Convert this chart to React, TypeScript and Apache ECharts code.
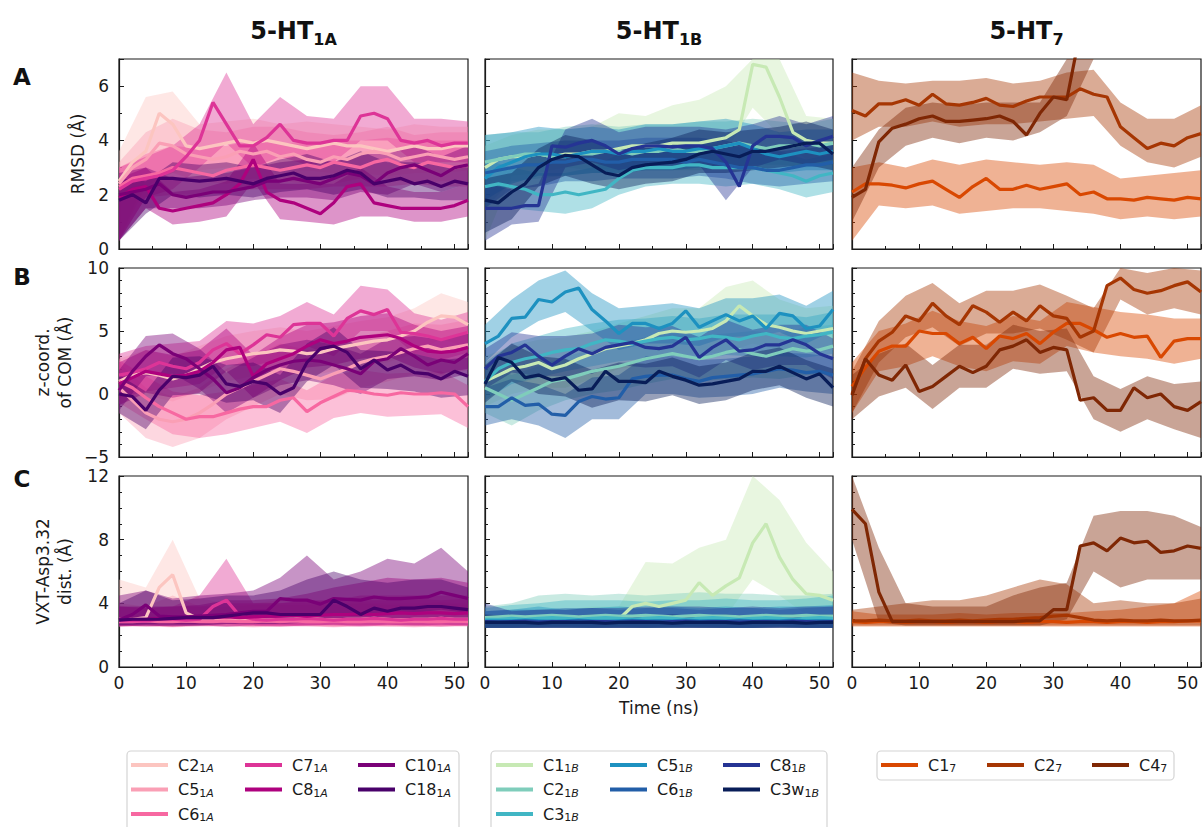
import React, { useEffect, useRef } from 'react';
import * as echarts from 'echarts';

const FONT = "'DejaVu Sans', sans-serif";
const INK = '#1a1a1a';

// time grids (ns)
const T = [0, 2, 4, 6, 8, 10, 12, 14, 16, 18, 20, 22, 24, 26, 28, 30, 32, 34, 36, 38, 40, 42, 44, 46, 48, 50, 52];
const TB = [0, 4, 8, 12, 16, 20, 24, 28, 32, 36, 40, 44, 48, 52];

const COLORS: Record<string, string> = {
  C2_1A: '#fcc5c0', C5_1A: '#fa9fb5', C6_1A: '#f768a1', C7_1A: '#dd3497', C8_1A: '#ae017e', C10_1A: '#7a0177', C18_1A: '#49006a',
  C1_1B: '#c7e9b4', C2_1B: '#7fcdbb', C3_1B: '#41b6c4', C5_1B: '#1d91c0', C6_1B: '#225ea8', C8_1B: '#253494', C3w_1B: '#081d58',
  C1_7: '#d94801', C2_7: '#a63603', C4_7: '#7f2704',
};

// ---------- A: RMSD (Å) ----------
const rmsd1A_C2 = [2.5, 3.2, 3.6, 5.0, 4.6, 3.8, 3.7, 3.8, 3.9, 4.0, 3.9, 4.0, 3.9, 3.8, 3.7, 3.8, 3.9, 3.8, 3.8, 3.7, 3.6, 3.7, 3.8, 3.7, 3.7, 3.8, 3.8];
const rmsd1A_C2_lo = [0.3, 2.6, 2.8, 2.9, 3.0, 3.0, 2.9, 2.9, 2.8, 2.8, 2.7, 2.8, 2.8, 2.9];
const rmsd1A_C2_hi = [3.6, 5.6, 5.8, 4.6, 4.7, 4.8, 4.6, 4.7, 4.6, 4.5, 4.4, 4.6, 4.5, 4.5];
const rmsd1A_C5 = [2.4, 3.0, 3.3, 3.9, 3.8, 3.5, 3.4, 3.3, 3.4, 3.6, 3.5, 3.6, 3.4, 3.5, 3.3, 3.2, 3.4, 3.3, 3.5, 3.6, 3.5, 3.3, 3.4, 3.5, 3.4, 3.3, 3.4];
const rmsd1A_C5_lo = [0.3, 2.3, 2.8, 2.5, 2.4, 2.6, 2.5, 2.4, 2.4, 2.6, 2.6, 2.4, 2.5, 2.5];
const rmsd1A_C5_hi = [3.2, 4.3, 4.8, 4.4, 4.3, 4.5, 4.5, 4.3, 4.2, 4.3, 4.5, 4.2, 4.3, 4.3];
const rmsd1A_C6 = [2.3, 2.6, 2.7, 2.8, 3.0, 2.9, 2.8, 2.7, 2.9, 3.0, 3.1, 3.0, 2.9, 3.0, 3.1, 3.0, 3.2, 3.1, 3.0, 3.2, 3.3, 3.1, 3.0, 3.2, 3.1, 3.0, 3.1];
const rmsd1A_C6_lo = [0.3, 1.9, 2.0, 2.0, 2.1, 2.2, 2.2, 2.2, 2.3, 2.3, 2.3, 2.4, 2.3, 2.3];
const rmsd1A_C6_hi = [3.0, 3.5, 3.8, 3.7, 3.8, 4.0, 3.9, 3.9, 4.0, 4.0, 4.1, 4.0, 4.0, 4.0];
const rmsd1A_C7 = [2.2, 2.5, 2.6, 2.7, 2.9, 3.4, 4.0, 5.4, 4.6, 3.8, 3.8, 4.1, 4.6, 4.0, 3.9, 3.9, 4.0, 4.0, 4.9, 5.0, 4.8, 4.0, 3.9, 4.0, 3.8, 3.9, 3.9];
const rmsd1A_C7_lo = [0.3, 1.9, 2.2, 3.0, 3.9, 3.0, 3.4, 3.1, 3.2, 4.0, 4.0, 3.2, 3.2, 3.2];
const rmsd1A_C7_hi = [3.0, 3.4, 3.8, 4.6, 6.5, 4.6, 5.6, 4.9, 4.8, 6.0, 6.0, 4.8, 4.8, 4.7];
const rmsd1A_C8 = [1.9, 2.2, 2.3, 1.5, 1.4, 1.5, 1.6, 1.7, 2.0, 2.4, 3.3, 2.1, 1.8, 1.7, 1.5, 1.3, 1.7, 2.3, 2.4, 1.7, 1.6, 1.5, 1.5, 1.5, 1.5, 1.6, 1.8];
const rmsd1A_C8_lo = [0.3, 1.5, 0.9, 1.0, 1.2, 2.5, 1.1, 1.0, 0.9, 1.2, 1.2, 1.0, 1.0, 1.2];
const rmsd1A_C8_hi = [2.6, 3.0, 2.1, 2.2, 2.5, 3.9, 2.4, 2.4, 2.4, 3.0, 2.3, 2.1, 2.1, 2.4];
const rmsd1A_C10 = [2.0, 2.1, 2.2, 2.4, 2.0, 1.9, 2.0, 2.1, 2.1, 2.2, 2.3, 2.5, 2.5, 2.6, 2.5, 2.4, 2.6, 2.8, 2.7, 2.4, 2.8, 3.0, 3.1, 2.9, 2.7, 3.0, 3.1];
const rmsd1A_C10_lo = [0.3, 1.5, 1.5, 1.5, 1.6, 1.8, 1.9, 1.9, 1.8, 2.1, 2.0, 2.4, 2.1, 2.4];
const rmsd1A_C10_hi = [2.8, 3.0, 2.6, 2.7, 2.8, 3.0, 3.2, 3.3, 3.2, 3.5, 3.5, 3.8, 3.4, 3.8];
const rmsd1A_C18 = [1.8, 2.0, 1.7, 2.6, 2.6, 2.55, 2.5, 2.55, 2.6, 2.5, 2.4, 2.6, 2.7, 2.8, 2.6, 2.6, 2.7, 2.9, 2.8, 2.4, 2.5, 2.6, 2.4, 2.5, 2.3, 2.5, 2.4];
const rmsd1A_C18_lo = [0.3, 1.3, 2.0, 1.9, 2.0, 1.9, 2.1, 2.2, 2.0, 2.2, 1.9, 1.9, 1.8, 1.8];
const rmsd1A_C18_hi = [2.6, 2.5, 3.2, 3.1, 3.2, 3.0, 3.3, 3.5, 3.2, 3.6, 3.2, 3.2, 3.1, 3.0];

const rmsd1B_C1 = [3.0, 3.3, 3.4, 3.4, 3.5, 3.4, 3.5, 3.5, 3.6, 3.6, 3.7, 3.8, 3.8, 3.8, 3.9, 3.9, 3.9, 4.0, 4.1, 4.4, 6.8, 6.7, 5.6, 4.3, 4.0, 3.9, 3.9];
const rmsd1B_C1_lo = [0.3, 2.7, 2.8, 3.0, 2.9, 3.0, 3.1, 3.2, 3.3, 3.6, 5.2, 4.2, 3.3, 3.2];
const rmsd1B_C1_hi = [3.8, 4.2, 4.4, 4.4, 4.5, 5.0, 4.9, 5.3, 5.5, 6.0, 7.0, 7.0, 4.9, 4.8];
const rmsd1B_C2 = [3.2, 3.3, 3.4, 3.5, 3.5, 3.4, 3.4, 3.5, 3.5, 3.6, 3.6, 3.5, 3.6, 3.6, 3.7, 3.6, 3.6, 3.7, 3.8, 3.9, 3.8, 3.7, 3.8, 3.8, 3.9, 3.8, 3.9];
const rmsd1B_C2_lo = [1.5, 2.5, 2.6, 2.7, 2.8, 2.8, 2.9, 2.9, 2.9, 3.0, 3.1, 3.1, 3.0, 3.1];
const rmsd1B_C2_hi = [4.2, 4.3, 4.3, 4.5, 4.6, 4.5, 4.6, 4.6, 4.7, 4.7, 4.8, 4.7, 4.6, 4.8];
const rmsd1B_C3 = [2.3, 2.4, 2.3, 2.2, 2.0, 2.0, 2.1, 2.0, 2.1, 2.2, 2.6, 2.9, 3.0, 3.0, 3.0, 3.1, 3.1, 3.0, 3.0, 3.0, 3.0, 2.9, 2.8, 2.7, 2.5, 2.7, 2.8];
const rmsd1B_C3_lo = [1.5, 1.5, 1.4, 1.3, 1.5, 2.0, 2.3, 2.4, 2.4, 2.3, 2.4, 2.2, 1.9, 2.1];
const rmsd1B_C3_hi = [3.3, 3.0, 2.8, 2.8, 3.0, 3.5, 3.7, 3.8, 3.8, 3.8, 3.7, 3.6, 3.3, 3.5];
const rmsd1B_C5 = [2.6, 3.0, 3.2, 3.4, 3.5, 3.5, 3.4, 3.5, 3.6, 3.6, 3.5, 3.6, 3.6, 3.7, 3.6, 3.6, 3.7, 3.7, 3.8, 3.9, 3.7, 3.5, 3.4, 3.5, 3.6, 3.5, 3.6];
const rmsd1B_C5_lo = [1.8, 2.4, 2.7, 2.7, 2.8, 2.8, 2.9, 2.9, 3.0, 3.1, 3.0, 2.8, 2.9, 2.9];
const rmsd1B_C5_hi = [4.2, 4.3, 4.5, 4.4, 4.5, 4.4, 4.6, 4.6, 4.7, 4.8, 4.6, 4.3, 4.4, 4.4];
const rmsd1B_C6 = [2.8, 2.9, 3.0, 3.1, 3.1, 3.2, 3.2, 3.3, 3.3, 3.2, 3.2, 3.3, 3.3, 3.3, 3.3, 3.2, 3.3, 3.2, 3.1, 3.0, 3.0, 2.9, 2.9, 3.0, 3.1, 3.1, 3.2];
const rmsd1B_C6_lo = [1.5, 2.2, 2.3, 2.5, 2.5, 2.6, 2.6, 2.6, 2.7, 2.6, 2.4, 2.3, 2.4, 2.5];
const rmsd1B_C6_hi = [3.6, 3.8, 3.9, 4.0, 4.0, 4.0, 4.1, 4.1, 4.1, 4.0, 3.7, 3.6, 3.7, 3.8];
const rmsd1B_C8 = [1.5, 1.5, 1.5, 1.6, 1.6, 3.8, 3.75, 3.9, 4.0, 3.8, 3.5, 3.7, 3.8, 3.8, 3.75, 3.8, 3.8, 3.7, 3.2, 2.3, 3.8, 4.15, 4.15, 4.1, 3.8, 4.0, 4.15];
const rmsd1B_C8_lo = [0.3, 0.9, 1.0, 3.0, 3.2, 2.9, 3.1, 3.1, 3.1, 1.8, 3.0, 3.3, 3.1, 3.3];
const rmsd1B_C8_hi = [2.4, 2.2, 2.4, 4.4, 4.8, 4.3, 4.5, 4.5, 4.5, 4.4, 4.6, 4.9, 4.6, 4.9];
const rmsd1B_C3w = [1.8, 1.7, 2.1, 2.4, 3.0, 3.3, 3.45, 3.4, 3.1, 2.8, 2.7, 3.0, 3.1, 3.15, 3.2, 3.3, 3.5, 3.6, 3.5, 3.4, 3.6, 3.6, 3.7, 3.8, 3.9, 3.9, 3.5];
const rmsd1B_C3w_lo = [0.6, 1.1, 2.3, 2.7, 2.4, 2.2, 2.4, 2.5, 2.8, 2.8, 2.9, 3.0, 3.1, 2.9];
const rmsd1B_C3w_hi = [2.6, 2.8, 3.7, 4.2, 4.0, 3.6, 3.9, 4.1, 4.4, 4.3, 4.4, 4.5, 4.7, 4.4];

const rmsd7_C1 = [2.1, 2.4, 2.4, 2.35, 2.25, 2.4, 2.5, 2.2, 1.9, 2.3, 2.6, 2.2, 2.2, 2.35, 2.2, 2.3, 2.4, 2.0, 2.1, 1.85, 1.85, 1.8, 1.9, 1.85, 1.8, 1.9, 1.85];
const rmsd7_C1_lo = [0.3, 1.6, 1.5, 1.6, 1.3, 1.4, 1.5, 1.5, 1.4, 1.3, 1.1, 1.2, 1.1, 1.2];
const rmsd7_C1_hi = [3.0, 3.2, 3.0, 3.3, 3.1, 3.3, 3.2, 3.1, 3.2, 3.1, 2.6, 2.7, 2.8, 2.9];
const rmsd7_C2 = [5.1, 4.9, 5.35, 5.35, 5.5, 5.3, 5.7, 5.35, 5.3, 5.4, 5.55, 5.3, 5.25, 5.45, 5.6, 5.6, 5.6, 5.9, 5.7, 5.6, 4.5, 4.1, 3.7, 3.9, 3.8, 4.1, 4.25];
const rmsd7_C2_lo = [4.0, 4.5, 4.5, 4.7, 4.5, 4.6, 4.6, 4.7, 4.8, 4.9, 3.8, 3.2, 3.0, 3.4];
const rmsd7_C2_hi = [6.5, 6.2, 6.1, 6.2, 6.2, 6.3, 6.1, 6.2, 6.5, 6.6, 5.4, 4.8, 4.8, 5.3];
const rmsd7_C4 = [1.9, 2.2, 3.95, 4.45, 4.6, 4.8, 4.9, 4.7, 4.7, 4.75, 4.8, 4.9, 4.7, 4.2, 5.0, 5.6, 5.5, 8, 8, 8, 8, 8, 8, 8, 8, 8, 8];
const rmsd7_C4_lo = [1.0, 3.0, 3.8, 4.1, 3.9, 4.1, 4.0, 4.3, 4.9, 8, 8, 8, 8, 8];
const rmsd7_C4_hi = [3.0, 4.4, 5.2, 5.4, 5.3, 5.4, 5.4, 5.4, 7.0, 8, 8, 8, 8, 8];

// ---------- B: z-coord. of COM (Å) ----------
const zcom1A_C2 = [1.0, 1.5, 1.7, 1.5, 1.2, 1.5, 2.0, 2.5, 2.8, 3.0, 3.2, 3.3, 3.5, 3.4, 3.2, 3.3, 3.6, 3.8, 4.0, 4.2, 4.3, 4.6, 5.0, 5.7, 6.2, 6.1, 5.5];
const zcom1A_C2_lo = [-0.8, -0.1, -0.6, 0.2, 1.0, 1.4, 1.7, 1.4, 1.8, 2.2, 2.5, 3.2, 4.4, 3.7];
const zcom1A_C2_hi = [2.8, 3.5, 3.0, 3.8, 4.6, 5.0, 5.3, 5.0, 5.4, 5.8, 6.1, 6.8, 8.0, 7.3];
const zcom1A_C5 = [0.5, -0.5, -1.5, -2.0, -2.2, -2.0, -1.5, -0.8, 0.0, 0.5, 1.0, 1.5, 2.0, 1.8, 1.5, 1.2, 1.6, 2.0, 2.5, 2.8, 3.0, 3.3, 3.6, 3.8, 3.5, 3.7, 3.9];
const zcom1A_C5_lo = [-1.5, -3.5, -4.2, -3.5, -2.0, -1.0, 0.0, -0.5, -0.4, 0.5, 1.0, 1.6, 1.5, 1.9];
const zcom1A_C5_hi = [2.5, 0.5, -0.2, 0.5, 2.0, 3.0, 4.0, 3.5, 3.6, 4.5, 5.0, 5.6, 5.5, 5.9];
const zcom1A_C6 = [1.0, 0.5, -0.3, -1.0, -1.5, -2.0, -1.8, -1.8, -1.5, -1.2, -1.0, -1.0, -0.5, -0.3, -1.4, -0.7, -0.2, 0.3, 0.2, 0.0, -0.1, 0.1, 0.0, 0.0, 0.1, 0.0, -1.0];
const zcom1A_C6_lo = [-0.7, -2.0, -3.2, -3.5, -3.2, -2.7, -2.2, -3.1, -1.9, -1.5, -1.8, -1.7, -1.6, -2.7];
const zcom1A_C6_hi = [2.7, 1.4, 0.2, -0.1, 0.2, 0.7, 1.2, 0.3, 1.5, 1.9, 1.6, 1.7, 1.8, 0.7];
const zcom1A_C7 = [1.5, 1.7, 2.0, 2.5, 2.2, 2.0, 2.5, 3.5, 4.0, 3.2, 3.9, 4.7, 4.5, 5.5, 5.6, 5.6, 4.6, 6.0, 6.6, 6.3, 6.7, 4.9, 4.8, 4.6, 4.3, 4.6, 4.9];
const zcom1A_C7_lo = [-0.3, 0.2, 0.5, 0.8, 2.3, 2.2, 2.8, 3.8, 3.0, 5.0, 5.0, 3.2, 2.7, 3.3];
const zcom1A_C7_hi = [3.2, 3.8, 4.0, 4.2, 5.8, 5.6, 6.2, 7.3, 6.3, 8.6, 8.3, 6.4, 5.9, 6.5];
const zcom1A_C8 = [0.8, 1.3, 1.8, 1.6, 1.4, 1.5, 1.8, 2.5, 3.5, 3.7, 1.4, 2.4, 2.8, 3.2, 3.8, 4.3, 4.0, 4.2, 4.5, 4.6, 4.7, 4.4, 3.8, 3.4, 3.3, 3.4, 3.7];
const zcom1A_C8_lo = [-0.9, 0.1, -0.3, 0.1, 1.8, -0.3, 1.1, 2.1, 2.3, 2.8, 3.0, 2.1, 1.6, 2.0];
const zcom1A_C8_hi = [2.5, 3.5, 3.1, 3.5, 5.2, 3.1, 4.5, 5.5, 5.7, 6.2, 6.4, 5.5, 5.0, 5.4];
const zcom1A_C10 = [0.3, 1.8, 3.0, 3.9, 3.2, 2.8, 2.0, 1.2, 0.1, 0.5, 1.3, 1.9, 2.3, 2.6, 2.7, 2.6, 2.3, 2.0, 1.6, 2.6, 2.8, 3.6, 3.0, 2.3, 2.7, 2.5, 3.2];
const zcom1A_C10_lo = [-1.3, 1.4, 1.6, 0.4, -1.5, -0.3, 0.7, 1.1, 0.7, 0.0, 1.2, 1.4, 1.1, 1.6];
const zcom1A_C10_hi = [1.9, 4.6, 4.8, 3.6, 1.7, 2.9, 3.9, 4.3, 3.9, 3.2, 4.4, 4.6, 4.3, 4.8];
const zcom1A_C18 = [0.0, -0.2, -1.3, 0.3, 1.4, 1.3, 1.5, 2.2, 0.8, 0.6, 1.0, 0.8, 0.0, 0.5, 2.5, 3.6, 3.8, 3.3, 2.0, 2.7, 1.9, 2.3, 1.7, 1.6, 1.2, 1.8, 1.4];
const zcom1A_C18_lo = [-1.5, -2.8, -0.1, 0.0, -0.7, -0.5, -1.5, 1.0, 2.3, 0.5, 0.4, 0.2, -0.3, -0.1];
const zcom1A_C18_hi = [1.5, 0.2, 2.9, 3.0, 2.3, 2.5, 1.5, 4.0, 5.3, 3.5, 3.4, 3.2, 2.7, 2.9];

const zcom1B_C1 = [1.0, 1.5, 2.0, 2.2, 2.5, 2.0, 2.3, 2.8, 3.2, 3.6, 3.8, 4.0, 4.3, 4.8, 5.0, 4.9, 5.0, 5.2, 5.8, 7.0, 6.2, 5.5, 5.3, 5.0, 4.8, 5.0, 5.2];
const zcom1B_C1_lo = [-1.0, 0.0, 0.5, 0.5, 1.2, 2.0, 2.3, 3.0, 3.2, 3.3, 4.0, 3.5, 3.3, 3.5];
const zcom1B_C1_hi = [3.0, 3.8, 4.3, 4.5, 5.0, 5.6, 6.2, 6.8, 6.8, 8.5, 9.0, 7.5, 6.8, 7.0];
const zcom1B_C2 = [0.5, 0.0, -0.5, 0.0, 0.5, 1.0, 1.2, 1.5, 1.8, 2.0, 2.2, 2.5, 2.8, 3.0, 3.2, 3.0, 2.8, 3.0, 3.3, 3.5, 3.2, 3.0, 3.3, 3.6, 3.4, 3.5, 3.8];
const zcom1B_C2_lo = [-1.5, -2.5, -1.3, -0.5, 0.0, 0.3, 0.8, 1.2, 1.0, 1.2, 1.3, 1.2, 1.5, 1.6];
const zcom1B_C2_hi = [2.2, 1.5, 2.2, 3.0, 3.5, 4.0, 4.5, 4.8, 4.6, 4.8, 5.0, 4.8, 5.3, 5.5];
const zcom1B_C3 = [1.0, 2.0, 2.5, 2.8, 3.0, 3.3, 3.5, 3.6, 4.0, 4.3, 4.2, 4.0, 4.2, 4.4, 4.5, 4.3, 4.4, 4.6, 4.5, 4.3, 4.6, 4.8, 4.5, 4.4, 4.6, 4.7, 4.9];
const zcom1B_C3_lo = [-0.5, 0.8, 1.3, 1.8, 2.2, 2.6, 2.8, 3.0, 2.8, 3.1, 3.0, 3.0, 2.9, 3.2];
const zcom1B_C3_hi = [2.5, 4.0, 4.6, 5.2, 5.6, 5.9, 6.0, 6.2, 6.0, 6.3, 6.3, 6.3, 6.1, 6.5];
const zcom1B_C5 = [4.0, 4.6, 6.0, 6.1, 7.5, 7.3, 8.1, 8.4, 6.7, 5.8, 4.8, 5.6, 5.6, 5.2, 5.6, 6.6, 5.3, 5.8, 6.3, 5.8, 6.2, 5.2, 6.4, 6.2, 5.2, 5.4, 6.7];
const zcom1B_C5_lo = [2.5, 4.5, 5.8, 6.5, 5.0, 3.5, 4.0, 4.0, 3.8, 4.5, 4.6, 4.9, 4.0, 5.0];
const zcom1B_C5_hi = [5.5, 7.5, 9.0, 9.8, 8.0, 6.8, 7.0, 7.2, 6.8, 7.6, 7.6, 7.9, 7.0, 8.2];
const zcom1B_C6 = [-1.0, -1.0, -0.3, -0.9, -0.8, -1.6, -1.7, -0.6, -0.2, -0.4, -0.3, 1.2, 1.4, 1.5, 1.5, 1.2, 1.0, 1.3, 1.4, 1.5, 1.6, 1.8, 2.0, 1.9, 1.7, 1.8, 1.5];
const zcom1B_C6_lo = [-2.5, -2.0, -2.5, -3.5, -2.0, -2.0, 0.0, 0.0, -0.3, -0.2, 0.0, 0.5, 0.2, 0.0];
const zcom1B_C6_hi = [0.5, 1.2, 0.8, 0.0, 1.3, 1.5, 3.0, 3.0, 2.7, 2.8, 3.0, 3.3, 3.2, 3.0];
const zcom1B_C8 = [2.0, 3.0, 3.3, 3.9, 3.0, 2.3, 3.0, 3.6, 3.2, 3.7, 3.9, 4.1, 3.7, 3.6, 3.8, 4.5, 2.9, 3.7, 4.3, 3.4, 3.5, 3.9, 3.9, 4.3, 3.9, 3.2, 2.8];
const zcom1B_C8_lo = [0.4, 1.7, 1.4, 1.4, 1.6, 2.3, 2.1, 2.2, 1.3, 2.7, 1.9, 2.3, 2.3, 1.2];
const zcom1B_C8_hi = [3.6, 4.9, 4.6, 4.6, 4.8, 5.5, 5.3, 5.4, 4.5, 5.9, 5.1, 5.5, 5.5, 4.4];
const zcom1B_C3w = [0.8, 2.9, 2.5, 1.3, 1.5, 1.1, 1.3, 0.3, 0.4, 1.8, 1.0, 1.0, 0.9, 1.8, 1.4, 1.1, 0.7, 0.8, 1.0, 1.2, 1.8, 1.8, 2.2, 1.7, 1.2, 1.6, 0.5];
const zcom1B_C3w_lo = [-0.7, 1.0, 0.0, -0.2, -1.1, -0.5, -0.6, -0.1, -0.8, -0.5, 0.3, 0.7, -0.3, -1.0];
const zcom1B_C3w_hi = [2.3, 4.0, 3.0, 2.8, 1.9, 2.5, 2.4, 2.9, 2.2, 2.5, 3.3, 3.7, 2.7, 2.0];

const zcom7_C1 = [0.6, 2.1, 3.4, 3.8, 3.8, 5.0, 4.8, 4.8, 4.0, 4.5, 3.6, 4.6, 4.4, 4.8, 4.0, 4.9, 5.6, 5.6, 5.1, 4.5, 4.8, 4.5, 4.6, 2.9, 4.2, 4.4, 4.4];
const zcom7_C1_lo = [-1.5, 1.8, 2.2, 3.0, 2.2, 1.8, 2.6, 2.4, 3.8, 3.3, 3.0, 2.8, 2.4, 2.8];
const zcom7_C1_hi = [2.5, 5.0, 5.6, 6.6, 5.8, 5.4, 6.2, 5.8, 7.3, 6.9, 6.5, 6.3, 6.0, 6.0];
const zcom7_C2 = [0.0, 2.8, 4.2, 4.9, 6.2, 5.8, 7.2, 6.2, 5.5, 7.0, 6.5, 5.7, 6.5, 5.8, 7.0, 6.2, 6.0, 4.5, 5.0, 8.6, 9.2, 8.3, 8.0, 8.2, 8.6, 8.9, 8.1];
const zcom7_C2_lo = [-1.5, 2.5, 4.5, 5.3, 3.8, 4.8, 4.8, 5.2, 4.3, 3.3, 7.5, 6.3, 6.8, 6.3];
const zcom7_C2_hi = [1.8, 5.8, 7.8, 8.8, 7.2, 8.2, 8.2, 8.7, 7.8, 6.8, 10, 9.6, 10, 9.8];
const zcom7_C4 = [-0.1, 2.8, 1.5, 1.1, 2.3, 0.2, 0.6, 1.4, 2.2, 1.7, 2.2, 3.5, 3.8, 4.3, 3.3, 3.7, 3.5, -0.5, -0.3, -1.3, -1.3, 0.5, -0.3, 0.0, -1.0, -1.3, -0.6];
const zcom7_C4_lo = [-2.0, -0.2, 0.5, -1.2, 0.5, 0.5, 2.0, 1.6, 1.8, -2.0, -3.0, -2.0, -2.8, -3.5];
const zcom7_C4_hi = [1.5, 3.2, 4.0, 2.3, 3.9, 3.9, 5.5, 5.0, 5.2, 1.4, 0.4, 1.4, 0.8, 1.0];

// ---------- C: VXT-Asp3.32 distance (Å) ----------
const dist1A_C2 = [3.0, 3.0, 3.1, 5.0, 5.8, 3.4, 3.0, 2.95, 3.0, 3.05, 3.0, 2.95, 3.0, 3.0, 3.05, 3.0, 2.95, 3.0, 3.0, 3.05, 3.0, 2.95, 3.0, 3.0, 3.05, 3.0, 3.0];
const dist1A_C2_lo = [2.6, 2.6, 2.55, 2.6, 2.6, 2.55, 2.6, 2.6, 2.55, 2.6, 2.6, 2.55, 2.6, 2.6];
const dist1A_C2_hi = [5.5, 5.0, 8.0, 4.3, 4.0, 4.0, 4.2, 4.0, 4.0, 4.1, 4.0, 4.0, 4.1, 4.0];
const dist1A_C5 = [2.9, 2.9, 2.95, 3.0, 2.95, 2.9, 2.9, 2.95, 2.9, 2.9, 2.95, 2.9, 2.9, 2.95, 2.9, 2.9, 2.95, 2.9, 2.95, 2.9, 2.9, 2.95, 2.9, 2.9, 2.95, 2.9, 2.9];
const dist1A_C5_lo = [2.55, 2.6, 2.55, 2.6, 2.55, 2.6, 2.55, 2.6, 2.55, 2.6, 2.55, 2.6, 2.55, 2.6];
const dist1A_C5_hi = [4.0, 3.8, 4.5, 3.8, 3.8, 3.9, 3.9, 3.9, 3.9, 4.0, 3.9, 3.9, 4.0, 3.9];
const dist1A_C6 = [2.85, 2.85, 2.9, 2.85, 2.85, 2.9, 2.85, 2.85, 2.9, 2.85, 2.85, 2.9, 2.85, 2.9, 2.85, 2.85, 2.9, 2.85, 2.85, 2.9, 2.85, 2.85, 2.9, 2.85, 2.85, 2.9, 2.85];
const dist1A_C6_lo = [2.55, 2.55, 2.5, 2.55, 2.55, 2.5, 2.55, 2.55, 2.5, 2.55, 2.55, 2.5, 2.55, 2.55];
const dist1A_C6_hi = [3.8, 3.7, 3.8, 3.8, 4.0, 4.0, 4.0, 4.1, 4.2, 4.2, 4.2, 4.3, 4.2, 4.3];
const dist1A_C7 = [2.9, 2.9, 2.9, 3.0, 3.0, 2.95, 3.0, 3.8, 4.2, 3.2, 3.0, 2.95, 3.0, 3.0, 3.05, 3.0, 2.95, 3.0, 3.0, 3.05, 3.0, 2.95, 3.0, 3.0, 3.05, 3.0, 3.0];
const dist1A_C7_lo = [2.6, 2.55, 2.6, 2.6, 2.7, 2.6, 2.55, 2.6, 2.6, 2.55, 2.6, 2.6, 2.55, 2.6];
const dist1A_C7_hi = [3.8, 3.7, 3.8, 4.5, 6.8, 4.0, 4.0, 4.2, 4.2, 4.5, 4.5, 4.5, 4.5, 4.5];
const dist1A_C8 = [3.0, 3.0, 3.0, 3.05, 3.05, 3.1, 3.1, 3.1, 3.15, 3.1, 3.15, 3.2, 3.2, 3.25, 3.2, 3.25, 3.3, 3.3, 3.35, 3.3, 3.35, 3.4, 3.35, 3.4, 3.4, 3.35, 3.4];
const dist1A_C8_lo = [2.55, 2.6, 2.55, 2.6, 2.55, 2.6, 2.6, 2.6, 2.65, 2.6, 2.65, 2.6, 2.65, 2.6];
const dist1A_C8_hi = [3.8, 3.8, 3.8, 3.9, 4.2, 4.2, 4.3, 4.6, 5.0, 5.3, 5.6, 5.5, 5.6, 5.3];
const dist1A_C10 = [2.95, 3.3, 3.9, 3.2, 3.15, 3.15, 3.2, 3.25, 3.3, 3.4, 3.5, 3.5, 4.3, 4.2, 4.2, 3.95, 4.3, 4.25, 4.2, 4.4, 4.3, 4.3, 4.35, 4.4, 4.7, 4.5, 4.3];
const dist1A_C10_lo = [2.6, 2.7, 2.7, 2.7, 2.8, 2.9, 3.3, 3.3, 3.2, 3.2, 3.4, 3.4, 3.6, 3.4];
const dist1A_C10_hi = [4.5, 4.8, 4.3, 4.5, 4.6, 4.8, 5.6, 7.0, 5.5, 6.0, 6.8, 6.5, 7.5, 6.0];
const dist1A_C18 = [2.95, 3.0, 3.0, 3.0, 3.05, 3.1, 3.1, 3.1, 3.2, 3.3, 3.4, 3.4, 3.3, 3.3, 3.3, 3.3, 4.2, 3.8, 3.3, 3.7, 3.5, 3.7, 3.7, 3.8, 3.8, 3.7, 3.6];
const dist1A_C18_lo = [2.6, 2.6, 2.6, 2.6, 2.7, 2.7, 2.7, 2.8, 2.9, 2.8, 2.9, 2.9, 2.9, 2.8];
const dist1A_C18_hi = [4.0, 4.8, 4.2, 4.3, 4.5, 4.5, 4.8, 5.5, 6.0, 5.5, 5.3, 5.5, 5.5, 5.0];

const dist1B_C1 = [2.9, 2.9, 2.95, 2.9, 2.95, 2.9, 2.95, 3.0, 2.95, 3.0, 3.0, 3.8, 4.0, 3.8, 4.0, 4.2, 5.3, 4.5, 5.1, 5.6, 7.8, 9.0, 6.9, 5.5, 4.6, 4.5, 4.2];
const dist1B_C1_lo = [2.6, 2.6, 2.6, 2.6, 2.6, 2.6, 2.7, 2.8, 3.0, 3.2, 5.5, 4.5, 3.3, 3.0];
const dist1B_C1_hi = [3.5, 3.5, 3.6, 3.6, 3.8, 3.8, 6.6, 6.5, 7.5, 8.0, 12, 10.5, 7.8, 6.0];
const dist1B_C2 = [3.1, 3.15, 3.2, 3.15, 3.2, 3.25, 3.2, 3.15, 3.2, 3.25, 3.2, 3.2, 3.25, 3.2, 3.15, 3.2, 3.25, 3.2, 3.2, 3.15, 3.2, 3.25, 3.2, 3.2, 3.25, 3.2, 3.2];
const dist1B_C2_lo = [2.5, 2.5, 2.55, 2.5, 2.5, 2.55, 2.5, 2.5, 2.55, 2.5, 2.5, 2.55, 2.5, 2.5];
const dist1B_C2_hi = [3.8, 4.0, 4.5, 4.6, 4.5, 4.6, 4.5, 4.6, 4.7, 4.6, 4.6, 4.5, 4.5, 4.6];
const dist1B_C3 = [3.0, 3.0, 3.05, 3.0, 3.05, 3.1, 3.05, 3.0, 3.05, 3.1, 3.05, 3.0, 3.05, 3.1, 3.05, 3.0, 3.05, 3.1, 3.05, 3.0, 3.05, 3.1, 3.05, 3.0, 3.05, 3.1, 3.05];
const dist1B_C3_lo = [2.5, 2.5, 2.5, 2.55, 2.5, 2.5, 2.5, 2.55, 2.5, 2.5, 2.5, 2.55, 2.5, 2.5];
const dist1B_C3_hi = [3.7, 3.9, 4.0, 4.2, 4.2, 4.2, 4.1, 4.2, 4.2, 4.3, 4.2, 4.2, 4.3, 4.5];
const dist1B_C5 = [2.9, 2.9, 2.9, 2.95, 2.9, 2.9, 2.9, 2.95, 2.9, 2.9, 2.9, 2.95, 2.9, 2.9, 2.9, 2.95, 2.9, 2.9, 2.9, 2.95, 2.9, 2.9, 2.9, 2.95, 2.9, 2.9, 2.9];
const dist1B_C5_lo = [2.45, 2.45, 2.5, 2.45, 2.45, 2.5, 2.45, 2.45, 2.5, 2.45, 2.45, 2.5, 2.45, 2.45];
const dist1B_C5_hi = [3.5, 3.6, 3.8, 3.6, 3.7, 3.8, 3.7, 3.8, 3.7, 3.8, 3.7, 3.8, 3.8, 3.9];
const dist1B_C6 = [2.85, 2.85, 2.85, 2.9, 2.85, 2.85, 2.85, 2.9, 2.85, 2.85, 2.85, 2.9, 2.85, 2.85, 2.85, 2.9, 2.85, 2.85, 2.85, 2.9, 2.85, 2.85, 2.85, 2.9, 2.85, 2.85, 2.85];
const dist1B_C6_lo = [2.45, 2.45, 2.45, 2.5, 2.45, 2.45, 2.45, 2.5, 2.45, 2.45, 2.45, 2.5, 2.45, 2.45];
const dist1B_C6_hi = [3.5, 3.6, 3.6, 3.7, 3.7, 3.6, 3.7, 3.7, 3.6, 3.7, 3.7, 3.6, 3.7, 3.8];
const dist1B_C8 = [2.85, 2.8, 2.85, 2.85, 2.8, 2.85, 2.85, 2.8, 2.85, 2.85, 2.8, 2.85, 2.85, 2.8, 2.85, 2.85, 2.8, 2.85, 2.85, 2.8, 2.85, 2.85, 2.8, 2.85, 2.85, 2.8, 2.85];
const dist1B_C8_lo = [2.45, 2.45, 2.45, 2.45, 2.45, 2.45, 2.45, 2.45, 2.45, 2.45, 2.45, 2.45, 2.45, 2.45];
const dist1B_C8_hi = [4.0, 3.5, 3.6, 3.6, 3.7, 3.7, 3.8, 3.8, 3.8, 3.7, 3.8, 3.7, 3.8, 3.8];
const dist1B_C3w = [2.8, 2.8, 2.8, 2.8, 2.75, 2.8, 2.8, 2.8, 2.8, 2.75, 2.8, 2.8, 2.8, 2.8, 2.75, 2.8, 2.8, 2.8, 2.8, 2.75, 2.8, 2.8, 2.8, 2.8, 2.75, 2.8, 2.8];
const dist1B_C3w_lo = [2.45, 2.45, 2.45, 2.45, 2.45, 2.45, 2.45, 2.45, 2.45, 2.45, 2.45, 2.45, 2.45, 2.45];
const dist1B_C3w_hi = [3.3, 3.2, 3.2, 3.2, 3.3, 3.2, 3.2, 3.3, 3.2, 3.3, 3.2, 3.3, 3.3, 3.3];

const dist7_C1 = [2.85, 2.8, 2.85, 2.85, 2.8, 2.85, 2.85, 2.8, 2.85, 2.85, 2.8, 2.85, 2.85, 2.8, 2.85, 2.85, 2.8, 2.85, 2.85, 2.8, 2.85, 2.85, 2.8, 2.85, 2.85, 2.9, 2.9];
const dist7_C1_lo = [2.55, 2.55, 2.55, 2.55, 2.55, 2.55, 2.55, 2.55, 2.55, 2.55, 2.55, 2.55, 2.55, 2.55];
const dist7_C1_hi = [3.5, 3.3, 3.3, 3.3, 3.4, 3.3, 3.4, 3.4, 3.4, 3.5, 3.6, 3.8, 4.0, 4.8];
const dist7_C2 = [2.9, 2.9, 2.95, 2.9, 2.9, 2.95, 2.9, 2.9, 2.95, 2.9, 2.95, 3.0, 3.0, 3.05, 3.1, 3.2, 3.25, 3.1, 2.95, 2.9, 2.95, 2.9, 2.9, 2.95, 2.9, 2.9, 2.95];
const dist7_C2_lo = [2.6, 2.6, 2.6, 2.6, 2.6, 2.6, 2.6, 2.6, 2.6, 2.6, 2.6, 2.6, 2.6, 2.6];
const dist7_C2_hi = [3.6, 3.8, 4.0, 4.2, 4.2, 4.5, 5.0, 5.5, 5.2, 4.0, 4.2, 4.0, 4.0, 4.3];
const dist7_C4 = [9.9, 9.0, 4.7, 2.85, 2.85, 2.85, 2.85, 2.85, 2.85, 2.85, 2.85, 2.85, 2.85, 2.9, 2.9, 3.6, 3.6, 7.6, 7.8, 7.3, 8.1, 7.8, 7.9, 7.2, 7.3, 7.6, 7.45];
const dist7_C4_lo = [8.0, 2.8, 2.6, 2.6, 2.6, 2.6, 2.6, 2.6, 3.0, 6.0, 5.0, 5.5, 5.5, 5.5];
const dist7_C4_hi = [12, 7.5, 4.0, 3.8, 3.8, 3.8, 4.5, 5.0, 5.3, 9.5, 9.8, 9.8, 9.5, 8.8];

// ---------- layout ----------
const COLS = [
  { left: 119, width: 349 },
  { left: 485, width: 348 },
  { left: 852, width: 349 },
];
const ROWS = [
  { top: 59, height: 190 },
  { top: 268, height: 189 },
  { top: 476, height: 191 },
];
const YAX = [
  { min: 0, max: 7, interval: 2, minor: 2, name: 'RMSD (Å)', gap: 30, showMax: false },
  { min: -5, max: 10, interval: 5, minor: 5, name: 'z-coord.\nof COM (Å)', gap: 43, showMax: true },
  { min: 0, max: 12, interval: 4, minor: 4, name: 'VXT-Asp3.32\ndist. (Å)', gap: 43, showMax: true },
];
const COL_TITLES = [
  { main: '5-HT', sub: '1A' },
  { main: '5-HT', sub: '1B' },
  { main: '5-HT', sub: '7' },
];
const ROW_LETTERS = [
  { text: 'A', y: 77 },
  { text: 'B', y: 277 },
  { text: 'C', y: 479 },
];

type Tr = { name: string; m: number[]; lo: number[]; hi: number[] };
const tr = (name: string, m: number[], lo: number[], hi: number[]): Tr => ({ name, m, lo, hi });

const PANELS: Tr[][][] = [
  [
    [
      tr('C2_1A', rmsd1A_C2, rmsd1A_C2_lo, rmsd1A_C2_hi), tr('C5_1A', rmsd1A_C5, rmsd1A_C5_lo, rmsd1A_C5_hi),
      tr('C6_1A', rmsd1A_C6, rmsd1A_C6_lo, rmsd1A_C6_hi), tr('C7_1A', rmsd1A_C7, rmsd1A_C7_lo, rmsd1A_C7_hi),
      tr('C8_1A', rmsd1A_C8, rmsd1A_C8_lo, rmsd1A_C8_hi), tr('C10_1A', rmsd1A_C10, rmsd1A_C10_lo, rmsd1A_C10_hi),
      tr('C18_1A', rmsd1A_C18, rmsd1A_C18_lo, rmsd1A_C18_hi),
    ],
    [
      tr('C1_1B', rmsd1B_C1, rmsd1B_C1_lo, rmsd1B_C1_hi), tr('C2_1B', rmsd1B_C2, rmsd1B_C2_lo, rmsd1B_C2_hi),
      tr('C3_1B', rmsd1B_C3, rmsd1B_C3_lo, rmsd1B_C3_hi), tr('C5_1B', rmsd1B_C5, rmsd1B_C5_lo, rmsd1B_C5_hi),
      tr('C6_1B', rmsd1B_C6, rmsd1B_C6_lo, rmsd1B_C6_hi), tr('C8_1B', rmsd1B_C8, rmsd1B_C8_lo, rmsd1B_C8_hi),
      tr('C3w_1B', rmsd1B_C3w, rmsd1B_C3w_lo, rmsd1B_C3w_hi),
    ],
    [
      tr('C1_7', rmsd7_C1, rmsd7_C1_lo, rmsd7_C1_hi), tr('C2_7', rmsd7_C2, rmsd7_C2_lo, rmsd7_C2_hi),
      tr('C4_7', rmsd7_C4, rmsd7_C4_lo, rmsd7_C4_hi),
    ],
  ],
  [
    [
      tr('C2_1A', zcom1A_C2, zcom1A_C2_lo, zcom1A_C2_hi), tr('C5_1A', zcom1A_C5, zcom1A_C5_lo, zcom1A_C5_hi),
      tr('C6_1A', zcom1A_C6, zcom1A_C6_lo, zcom1A_C6_hi), tr('C7_1A', zcom1A_C7, zcom1A_C7_lo, zcom1A_C7_hi),
      tr('C8_1A', zcom1A_C8, zcom1A_C8_lo, zcom1A_C8_hi), tr('C10_1A', zcom1A_C10, zcom1A_C10_lo, zcom1A_C10_hi),
      tr('C18_1A', zcom1A_C18, zcom1A_C18_lo, zcom1A_C18_hi),
    ],
    [
      tr('C1_1B', zcom1B_C1, zcom1B_C1_lo, zcom1B_C1_hi), tr('C2_1B', zcom1B_C2, zcom1B_C2_lo, zcom1B_C2_hi),
      tr('C3_1B', zcom1B_C3, zcom1B_C3_lo, zcom1B_C3_hi), tr('C5_1B', zcom1B_C5, zcom1B_C5_lo, zcom1B_C5_hi),
      tr('C6_1B', zcom1B_C6, zcom1B_C6_lo, zcom1B_C6_hi), tr('C8_1B', zcom1B_C8, zcom1B_C8_lo, zcom1B_C8_hi),
      tr('C3w_1B', zcom1B_C3w, zcom1B_C3w_lo, zcom1B_C3w_hi),
    ],
    [
      tr('C1_7', zcom7_C1, zcom7_C1_lo, zcom7_C1_hi), tr('C2_7', zcom7_C2, zcom7_C2_lo, zcom7_C2_hi),
      tr('C4_7', zcom7_C4, zcom7_C4_lo, zcom7_C4_hi),
    ],
  ],
  [
    [
      tr('C2_1A', dist1A_C2, dist1A_C2_lo, dist1A_C2_hi), tr('C5_1A', dist1A_C5, dist1A_C5_lo, dist1A_C5_hi),
      tr('C6_1A', dist1A_C6, dist1A_C6_lo, dist1A_C6_hi), tr('C7_1A', dist1A_C7, dist1A_C7_lo, dist1A_C7_hi),
      tr('C8_1A', dist1A_C8, dist1A_C8_lo, dist1A_C8_hi), tr('C10_1A', dist1A_C10, dist1A_C10_lo, dist1A_C10_hi),
      tr('C18_1A', dist1A_C18, dist1A_C18_lo, dist1A_C18_hi),
    ],
    [
      tr('C1_1B', dist1B_C1, dist1B_C1_lo, dist1B_C1_hi), tr('C2_1B', dist1B_C2, dist1B_C2_lo, dist1B_C2_hi),
      tr('C3_1B', dist1B_C3, dist1B_C3_lo, dist1B_C3_hi), tr('C5_1B', dist1B_C5, dist1B_C5_lo, dist1B_C5_hi),
      tr('C6_1B', dist1B_C6, dist1B_C6_lo, dist1B_C6_hi), tr('C8_1B', dist1B_C8, dist1B_C8_lo, dist1B_C8_hi),
      tr('C3w_1B', dist1B_C3w, dist1B_C3w_lo, dist1B_C3w_hi),
    ],
    [
      tr('C1_7', dist7_C1, dist7_C1_lo, dist7_C1_hi), tr('C2_7', dist7_C2, dist7_C2_lo, dist7_C2_hi),
      tr('C4_7', dist7_C4, dist7_C4_lo, dist7_C4_hi),
    ],
  ],
];

const LEGEND_COLS = [
  { names: ['C2_1A', 'C5_1A', 'C6_1A'], left: 131 },
  { names: ['C7_1A', 'C8_1A'], left: 245 },
  { names: ['C10_1A', 'C18_1A'], left: 358 },
  { names: ['C1_1B', 'C2_1B', 'C3_1B'], left: 496 },
  { names: ['C5_1B', 'C6_1B'], left: 610 },
  { names: ['C8_1B', 'C3w_1B'], left: 723 },
  { names: ['C1_7'], left: 881 },
  { names: ['C2_7'], left: 987 },
  { names: ['C4_7'], left: 1092 },
];
const LEGEND_BOXES = [
  { x: 127, y: 751, w: 332, h: 80 },
  { x: 491, y: 751, w: 336, h: 80 },
  { x: 877, y: 751, w: 297, h: 29 },
];

function legendFmt(name: string) {
  const [base, sub] = name.split('_');
  const num = sub.replace(/[A-Za-z]/g, '');
  const letters = sub.replace(/[0-9]/g, '');
  return `{b|${base}}{s|${num}}` + (letters ? `{i|${letters}}` : '');
}

function buildOption() {
  const grids: any[] = [];
  const xAxes: any[] = [];
  const yAxes: any[] = [];
  const bands: any[] = [];
  const lines: any[] = [];

  ROWS.forEach((row, r) => {
    COLS.forEach((col, c) => {
      const gi = r * 3 + c;
      const ya = YAX[r];
      grids.push({
        left: col.left, top: row.top, width: col.width, height: row.height,
        show: true, borderColor: INK, borderWidth: 1.2, backgroundColor: 'transparent',
      });
      xAxes.push({
        type: 'value', gridIndex: gi, min: 0, max: 52, interval: 10,
        axisLine: { show: true, onZero: false, lineStyle: { color: INK, width: 1.2 } },
        axisTick: { show: true, inside: true, length: 5, lineStyle: { color: INK, width: 1 } },
        minorTick: { show: true, splitNumber: 2, length: 3, lineStyle: { color: INK, width: 1 } },
        splitLine: { show: false },
        axisLabel: { show: r === 2, margin: 7, fontSize: 17, color: INK, fontFamily: FONT, showMaxLabel: false },
        name: r === 2 && c === 1 ? 'Time (ns)' : '',
        nameLocation: 'middle', nameGap: 32,
        nameTextStyle: { fontSize: 17, color: INK, fontFamily: FONT },
      });
      yAxes.push({
        type: 'value', gridIndex: gi, min: ya.min, max: ya.max, interval: ya.interval,
        axisLine: { show: true, onZero: false, lineStyle: { color: INK, width: 1.2 } },
        axisTick: { show: true, inside: true, length: 5, lineStyle: { color: INK, width: 1 } },
        minorTick: { show: true, splitNumber: ya.minor, length: 3, lineStyle: { color: INK, width: 1 } },
        splitLine: { show: false },
        axisLabel: {
          show: c === 0, margin: 10, fontSize: 17, color: INK, fontFamily: FONT, showMaxLabel: ya.showMax,
          formatter: (v: number) => String(v).replace('-', '\u2212'),
        },
        name: c === 0 ? ya.name : '',
        nameLocation: 'middle', nameGap: ya.gap,
        nameTextStyle: { fontSize: 17, lineHeight: 22, color: INK, fontFamily: FONT },
      });

      PANELS[r][c].forEach((s) => {
        const color = COLORS[s.name];
        const lo = s.lo, hi = s.hi;
        const ymin = ya.min, ymax = ya.max;
        bands.push({
          type: 'custom', xAxisIndex: gi, yAxisIndex: gi, silent: true, z: 1,
          data: [[TB[0], Math.max(ymin, Math.min(ymax, lo[0]))]],
          renderItem: (_p: any, api: any) => {
            const cl = (v: number) => Math.max(ymin, Math.min(ymax, v));
            const up = TB.map((t, i) => api.coord([t, cl(hi[i])]));
            const dn = TB.map((t, i) => api.coord([t, cl(lo[i])])).reverse();
            return {
              type: 'polygon',
              shape: { points: up.concat(dn) },
              style: { fill: color, opacity: 0.42 },
            };
          },
        });
        lines.push({
          type: 'line', name: s.name, xAxisIndex: gi, yAxisIndex: gi,
          data: T.map((t, i) => [t, s.m[i]]),
          showSymbol: false, symbol: 'none', silent: true, z: 2, clip: true,
          lineStyle: { color, width: 3.2 },
          itemStyle: { color },
        });
      });
    });
  });

  const legends = LEGEND_COLS.map((lc) => ({
    data: lc.names, orient: 'vertical', left: lc.left, top: 756, padding: 0,
    itemWidth: 37, itemHeight: 4, itemGap: 6.5, icon: 'rect', selectedMode: false, z: 5,
    formatter: legendFmt,
    textStyle: {
      color: INK, fontFamily: FONT, fontSize: 16,
      rich: {
        b: { fontSize: 16, lineHeight: 18, padding: [0, 0, 0, 5], color: INK, fontFamily: FONT },
        s: { fontSize: 11, lineHeight: 18, padding: [7, 0, 0, 0], color: INK, fontFamily: FONT },
        i: { fontSize: 11, lineHeight: 18, padding: [7, 0, 0, 0], color: INK, fontFamily: FONT, fontStyle: 'italic' },
      },
    },
  }));

  const graphic: any[] = [];
  LEGEND_BOXES.forEach((b) => {
    graphic.push({
      type: 'rect', z: 1, silent: true,
      shape: { x: b.x, y: b.y, width: b.w, height: b.h, r: 4 },
      style: { fill: '#ffffff', stroke: '#d4d4d4', lineWidth: 1.2 },
    });
  });
  COL_TITLES.forEach((t, c) => {
    graphic.push({
      type: 'text', z: 10, silent: true,
      x: COLS[c].left + COLS[c].width / 2, y: 31,
      style: {
        text: `{a|${t.main}}{b|${t.sub}}`, align: 'center', verticalAlign: 'middle', fill: '#111',
        rich: {
          a: { fontSize: 24, fontWeight: 'bold', fontFamily: FONT, lineHeight: 28, fill: '#111' },
          b: { fontSize: 16, fontWeight: 'bold', fontFamily: FONT, lineHeight: 28, padding: [17, 0, 0, 0], fill: '#111' },
        },
      },
    });
  });
  ROW_LETTERS.forEach((l) => {
    graphic.push({
      type: 'text', z: 10, silent: true, x: 22, y: l.y,
      style: { text: l.text, align: 'center', verticalAlign: 'middle', fill: '#111', fontSize: 23, fontWeight: 'bold', fontFamily: FONT },
    });
  });

  return {
    animation: false,
    backgroundColor: '#ffffff',
    textStyle: { fontFamily: FONT },
    grid: grids,
    xAxis: xAxes,
    yAxis: yAxes,
    legend: legends,
    graphic,
    series: [...bands, ...lines],
  };
}

export default function App() {
  const ref = useRef<HTMLDivElement>(null);
  useEffect(() => {
    if (!ref.current) return;
    const chart = echarts.init(ref.current, null, { renderer: 'svg', width: 1202, height: 827 });
    chart.setOption(buildOption() as any);
    return () => chart.dispose();
  }, []);
  return <div ref={ref} style={{ position: 'absolute', left: 0, top: 0, width: 1202, height: 827 }} />;
}
